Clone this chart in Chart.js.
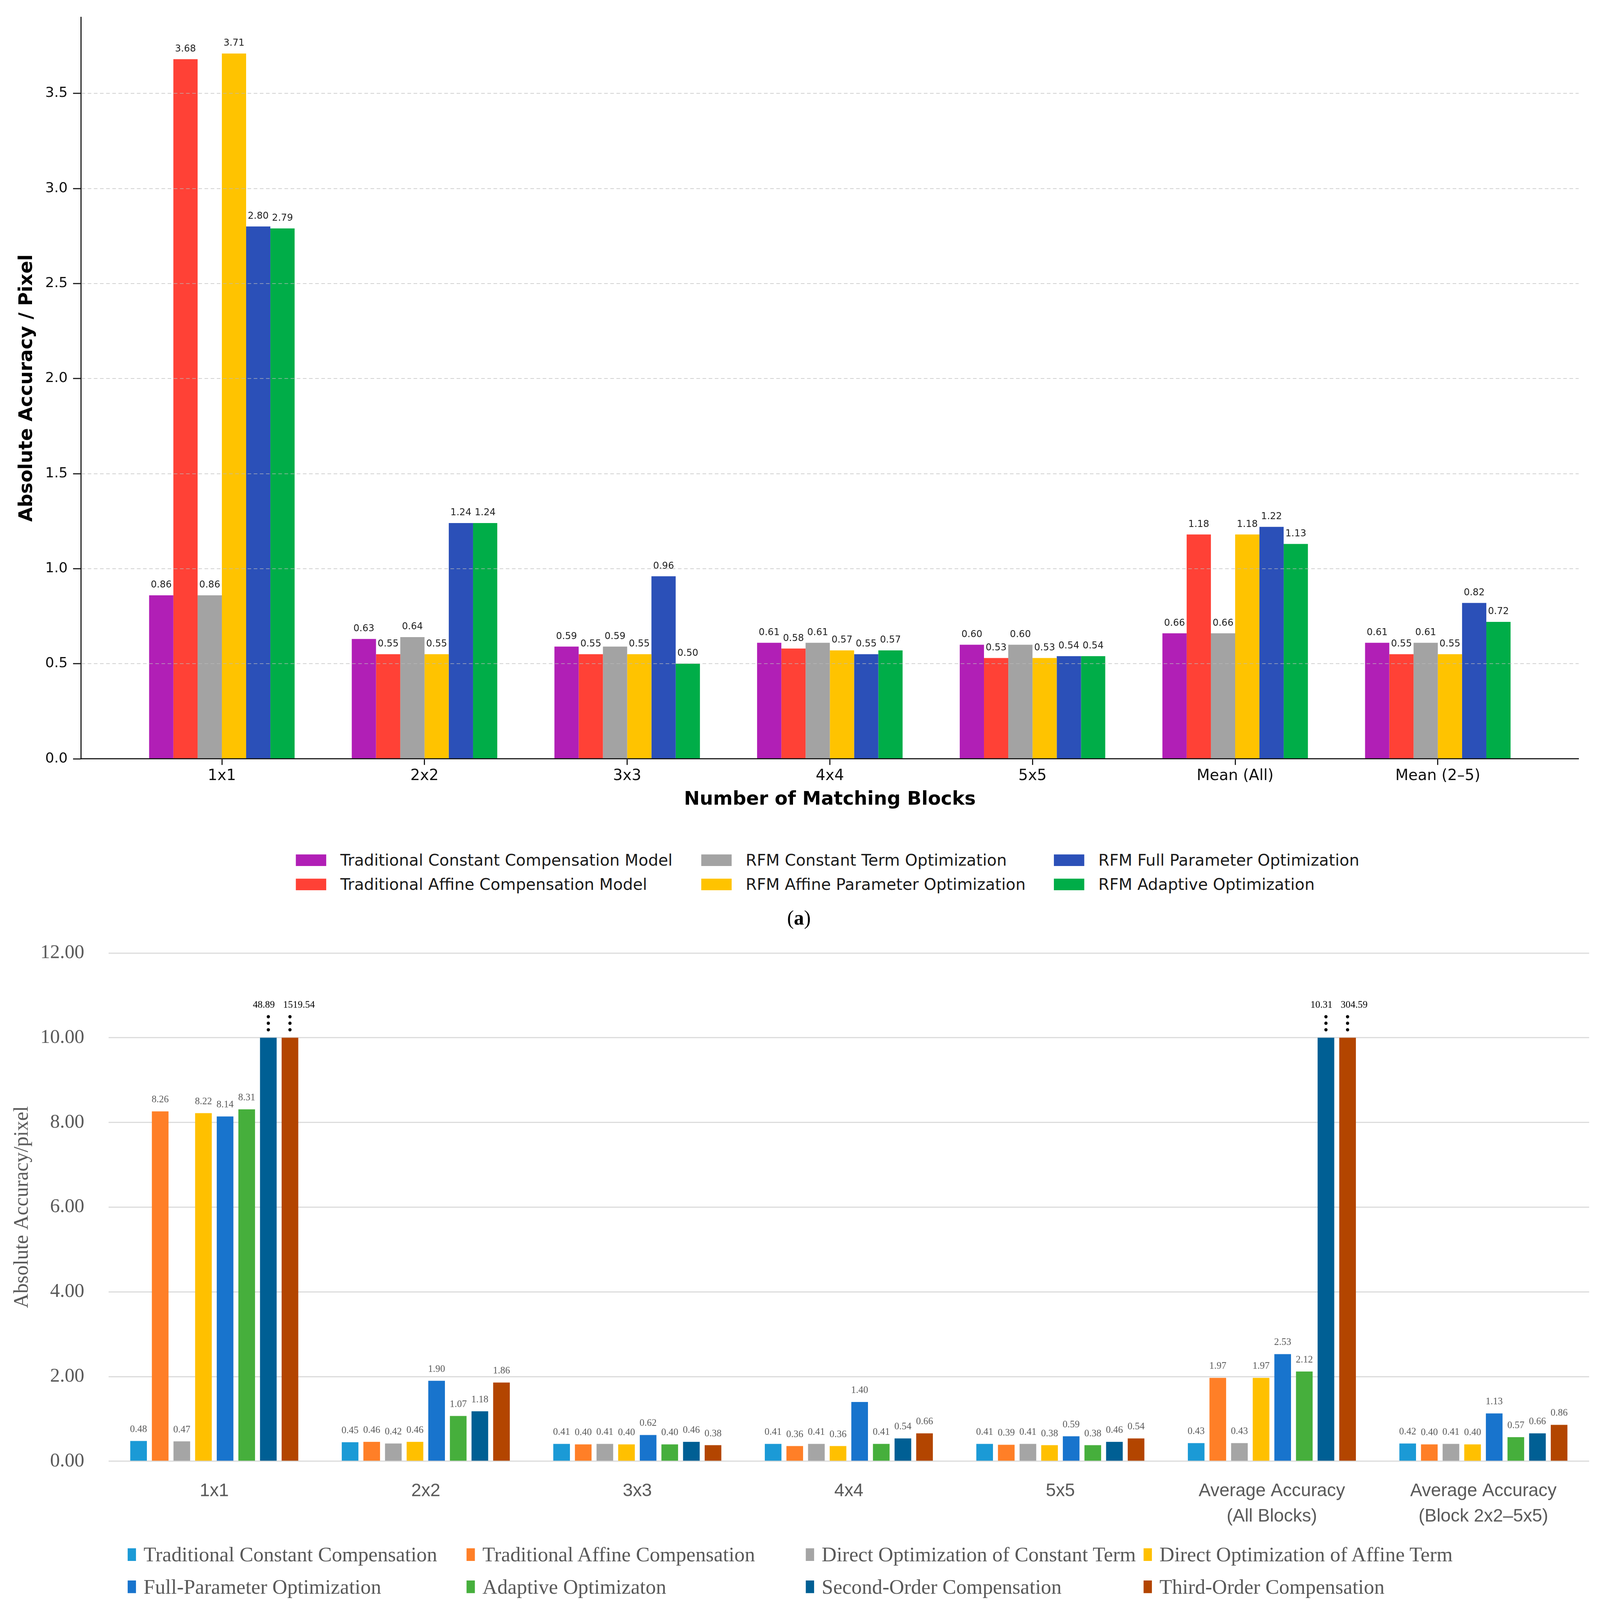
<!DOCTYPE html>
<html>
<head>
<meta charset="utf-8">
<script src="https://cdn.jsdelivr.net/npm/chart.js@4.4.1/dist/chart.umd.min.js"></script>
<style>
  html, body { margin: 0; background: #fff; overflow: hidden; }
  #page { position: absolute; left: 0; top: 0; width: 4424px; height: 4550px; transform-origin: 0 0; background: #fff; }
  canvas { position: absolute; left: 0; }
  #chart-a { top: 0; }
  #chart-b { top: 2580px; }
  .leg { position: absolute; white-space: nowrap; transform: translateY(-50%); }
  .leg i { position: absolute; left: 0; top: 50%; transform: translateY(-50%); }
  .cap { position: absolute; font-family: "Liberation Serif", serif; font-size: 56px; color: #000;
         transform: translate(-50%, -50%); }
</style>
</head>
<body>
<div id="page">
<canvas id="chart-a" width="4424" height="2300"></canvas>
<canvas id="chart-b" width="4424" height="1680"></canvas>
<div id="legend-a"></div>
<div id="legend-b"></div>
<div class="cap" style="left:2209px;top:2538px">(<b>a</b>)</div>
<div class="cap" style="left:2206px;top:4490px">(<b>b</b>)</div>
</div>
<script>
    // panel (a)
    const blocksA = ['1x1', '2x2', '3x3', '4x4', '5x5', 'Mean (All)', 'Mean (2–5)'];
    const namesA = ['Traditional Constant Compensation Model', 'Traditional Affine Compensation Model',
        'RFM Constant Term Optimization', 'RFM Affine Parameter Optimization',
        'RFM Full Parameter Optimization', 'RFM Adaptive Optimization'];
    const colorsA = ['#B11FB6', '#FF4136', '#A3A3A3', '#FFC300', '#2B50B8', '#00AD48'];
    const tradConstA = [0.86, 0.63, 0.59, 0.61, 0.60, 0.66, 0.61];
    const tradAffineA = [3.68, 0.55, 0.55, 0.58, 0.53, 1.18, 0.55];
    const rfmConstA = [0.86, 0.64, 0.59, 0.61, 0.60, 0.66, 0.61];
    const rfmAffineA = [3.71, 0.55, 0.55, 0.57, 0.53, 1.18, 0.55];
    const rfmFullA = [2.80, 1.24, 0.96, 0.55, 0.54, 1.22, 0.82];
    const rfmAdaptA = [2.79, 1.24, 0.50, 0.57, 0.54, 1.13, 0.72];
    const seriesA = [tradConstA, tradAffineA, rfmConstA, rfmAffineA, rfmFullA, rfmAdaptA];

    // panel (b)
    const blocksB = ['1x1', '2x2', '3x3', '4x4', '5x5', ['Average Accuracy', '(All Blocks)'], ['Average Accuracy', '(Block 2x2–5x5)']];
    const namesB = ['Traditional Constant Compensation', 'Traditional Affine Compensation',
        'Direct Optimization of Constant Term', 'Direct Optimization of Affine Term',
        'Full-Parameter Optimization', 'Adaptive Optimizaton',
        'Second-Order Compensation', 'Third-Order Compensation'];
    const colorsB = ['#1B9AD6', '#FF7F27', '#A5A5A5', '#FFC000', '#1874CD', '#46AF3C', '#005F94', '#B34500'];
    const tradConstB = [0.48, 0.45, 0.41, 0.41, 0.41, 0.43, 0.42];
    const tradAffineB = [8.26, 0.46, 0.40, 0.36, 0.39, 1.97, 0.40];
    const directConstB = [0.47, 0.42, 0.41, 0.41, 0.41, 0.43, 0.41];
    const directAffineB = [8.22, 0.46, 0.40, 0.36, 0.38, 1.97, 0.40];
    const fullParamB = [8.14, 1.90, 0.62, 1.40, 0.59, 2.53, 1.13];
    const adaptiveB = [8.31, 1.07, 0.40, 0.41, 0.38, 2.12, 0.57];
    const secondOrderB = [48.89, 1.18, 0.46, 0.54, 0.46, 10.31, 0.66];
    const thirdOrderB = [1519.54, 1.86, 0.38, 0.66, 0.54, 304.59, 0.86];
    const seriesB = [tradConstB, tradAffineB, directConstB, directAffineB, fullParamB, adaptiveB, secondOrderB, thirdOrderB];
    const yTicksB = [0, 2, 4, 6, 8, 10, 12];
    const breakB = 10;   // bars above this are cut at the axis break

    // fit the 4424 px wide page into the window
    const s = window.innerWidth / 4424;
    if (Math.abs(s - 1) > 0.001) document.getElementById('page').style.transform = `scale(${s})`;
    const dpr = (window.devicePixelRatio || 1) * s;

    // value labels on top of the bars
    const barLabels = {
        id: 'barLabels',
        afterDatasetsDraw(chart, args, o) {
            const ctx = chart.ctx;
            const sets = chart.data.datasets;
            sets.forEach((ds, i) => {
                chart.getDatasetMeta(i).data.forEach((bar, j) => {
                    const v = ds.raw[j];
                    const isCut = k => o.cut && sets[k] && sets[k].raw[j] > o.cut;
                    ctx.save();
                    ctx.font = o.font;
                    ctx.textBaseline = 'middle';
                    if (isCut(i)) {
                        ctx.fillStyle = '#000';
                        let x = bar.x;
                        ctx.textAlign = 'center';
                        if (isCut(i + 1)) { ctx.textAlign = 'right'; x = bar.x + bar.width / 2 - 5; }
                        else if (isCut(i - 1)) { ctx.textAlign = 'left'; x = bar.x - bar.width / 2 + 4; }
                        ctx.fillText(v.toFixed(2), x, bar.y - 90);
                        [58, 40, 22].forEach(d => {
                            ctx.beginPath();
                            ctx.arc(bar.x, bar.y - d, 4.5, 0, Math.PI * 2);
                            ctx.fill();
                        });
                    } else {
                        ctx.fillStyle = o.color;
                        ctx.textAlign = 'center';
                        ctx.fillText(v.toFixed(2), bar.x, bar.y - o.gap);
                    }
                    ctx.restore();
                });
            });
        }
    };

    const edgeA = 0.695;
    new Chart(document.getElementById('chart-a'), {
        type: 'bar',
        data: {
            labels: blocksA,
            datasets: seriesA.map((v, i) => ({
                label: namesA[i], data: v, raw: v, backgroundColor: colorsA[i],
                categoryPercentage: 0.718, barPercentage: 1.0
            }))
        },
        options: {
            responsive: false, devicePixelRatio: dpr, animation: false,
            layout: { padding: { left: 0, right: 59, top: 48, bottom: 0 } },
            plugins: {
                legend: { display: false }, tooltip: { enabled: false },
                barLabels: { font: '26px "DejaVu Sans"', color: '#222', gap: 28 }
            },
            scales: {
                x: {
                    offset: true,
                    afterBuildTicks(scale) {
                        scale._startValue = scale.min - edgeA;
                        scale._valueRange = scale.max - scale.min + 2 * edgeA;
                    },
                    afterFit(scale) { scale.height = 202; },
                    grid: { offset: false, drawOnChartArea: false, drawTicks: true, tickLength: 17, tickColor: '#111', tickWidth: 3 },
                    border: { color: '#111', width: 3, z: 2 },
                    ticks: { color: '#111', font: { family: 'DejaVu Sans', size: 42 }, padding: 6, autoSkip: false, maxRotation: 0 },
                    title: { display: true, text: 'Number of Matching Blocks', color: '#000',
                        font: { family: 'DejaVu Sans', size: 52, weight: 'bold' }, padding: { top: 0, bottom: 57 } }
                },
                y: {
                    min: 0, max: 3.9,
                    afterFit(scale) { scale.width = 224; },
                    grid: {
                        z: 1, lineWidth: 2, tickLength: 22, tickColor: '#111', tickWidth: 3,
                        color: ctx => ctx.tick.value === 0 ? 'rgba(0,0,0,0)' : 'rgba(185,185,185,0.75)'
                    },
                    border: { color: '#111', width: 3, dash: [10, 7], z: 2 },
                    ticks: { stepSize: 0.5, includeBounds: false, color: '#111', padding: 15,
                        font: { family: 'DejaVu Sans', size: 39 }, callback: v => v.toFixed(1) },
                    title: { display: true, text: 'Absolute Accuracy / Pixel', color: '#000',
                        font: { family: 'DejaVu Sans', size: 52, weight: 'bold' }, padding: { top: 44, bottom: 0 } }
                }
            }
        },
        plugins: [barLabels]
    });

    new Chart(document.getElementById('chart-b'), {
        type: 'bar',
        data: {
            labels: blocksB,
            datasets: seriesB.map((v, i) => ({
                label: namesB[i], data: v.map(x => Math.min(x, breakB)), raw: v, backgroundColor: colorsB[i],
                categoryPercentage: 0.818, barPercentage: 0.77
            }))
        },
        options: {
            responsive: false, devicePixelRatio: dpr, animation: false,
            layout: { padding: { left: 0, right: 30, top: 55, bottom: 0 } },
            plugins: {
                legend: { display: false }, tooltip: { enabled: false },
                barLabels: { font: '27px "Liberation Serif"', color: '#595959', gap: 32, cut: breakB }
            },
            scales: {
                x: {
                    afterFit(scale) { scale.height = 220; },
                    grid: { display: false },
                    border: { display: false },
                    ticks: { color: '#595959', font: { family: '"Liberation Sans"', size: 50, lineHeight: 1.4 },
                        padding: 40, autoSkip: false, maxRotation: 0 }
                },
                y: {
                    min: 0, max: 12,
                    afterFit(scale) { scale.width = 300; },
                    afterBuildTicks(scale) { scale.ticks = yTicksB.map(v => ({ value: v })); },
                    grid: { color: '#D9D9D9', lineWidth: 3, drawTicks: true, tickLength: 67, tickColor: 'rgba(0,0,0,0)' },
                    border: { display: false },
                    ticks: { color: '#595959', padding: 0, font: { family: 'Liberation Serif', size: 54 },
                        callback: v => v.toFixed(2) },
                    title: { display: true, text: 'Absolute Accuracy/pixel', color: '#595959',
                        font: { family: 'Liberation Serif', size: 56 }, padding: { top: 28, bottom: 0 } }
                }
            }
        },
        plugins: [barLabels]
    });

    // legends
    const legA = document.getElementById('legend-a');
    namesA.forEach((n, i) => {
        const col = Math.floor(i / 2), row = i % 2;
        const d = document.createElement('div');
        d.className = 'leg';
        d.style.cssText = `left:${[818, 1939, 2914][col]}px;top:${[2378, 2445][row]}px;padding-left:123px;font:44px "DejaVu Sans";color:#1a1a1a;`;
        d.innerHTML = `<i style="width:84px;height:32px;background:${colorsA[i]}"></i>${n}`;
        legA.appendChild(d);
    });
    const legB = document.getElementById('legend-b');
    namesB.forEach((n, i) => {
        const col = i % 4, row = Math.floor(i / 4);
        const d = document.createElement('div');
        d.className = 'leg';
        d.style.cssText = `left:${[353, 1290, 2228, 3162][col]}px;top:${[4298, 4387][row]}px;padding-left:44px;font:57px "Liberation Serif";color:#595959;`;
        d.innerHTML = `<i style="width:23px;height:35px;background:${colorsB[i]}"></i>${n}`;
        legB.appendChild(d);
    });
</script>
</body>
</html>
